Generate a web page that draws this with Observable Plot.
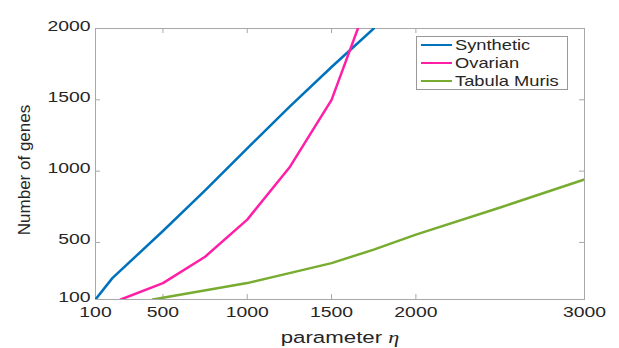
<!DOCTYPE html>
<html>
<head>
<meta charset="utf-8">
<script src="https://cdn.jsdelivr.net/npm/d3@7"></script>
<script src="https://cdn.jsdelivr.net/npm/@observablehq/plot@0.6"></script>
<style>
  html, body { margin: 0; padding: 0; background: white; }
  #wrap { position: relative; width: 619px; height: 348px; font-family: "Liberation Sans", Arial, sans-serif; }
  #legend { position: absolute; left: 416px; top: 36px; width: 152px; height: 54px; border: 1px solid #999; background: white; box-sizing: border-box; }
  .row { position: absolute; left: 0; height: 18px; }
  .sw { position: absolute; left: 4px; width: 31px; height: 0; border-top: 2.5px solid; }
  .lt { position: absolute; left: 38px; white-space: nowrap; font-size: 15px; color: #262626; transform: scaleX(1.22); transform-origin: left center; line-height: 18px; top: 0; }
</style>
</head>
<body>
<div id="wrap"><div id="chart"></div><div id="legend"></div></div>
<script>
// ---- data ----
const seriesNames = ["Synthetic", "Ovarian", "Tabula Muris"];
const seriesColors = ["#0072BD", "#FF1FA6", "#77AC30"];

const syntheticX = [100, 200, 500, 750, 1000, 1250, 1500, 1750];
const syntheticY = [100, 250, 580, 865, 1160, 1450, 1730, 2000];

const ovarianX = [250, 500, 750, 1000, 1250, 1500, 1750];
const ovarianY = [100, 215, 400, 660, 1025, 1500, 2300];

const tabulaX = [440, 1000, 1250, 1500, 1750, 2000, 2500, 3000];
const tabulaY = [100, 215, 285, 355, 450, 555, 745, 942];

const xTicks = [100, 500, 1000, 1500, 2000, 3000];
const yTicks = [100, 500, 1000, 1500, 2000];

const xLabel = "parameter η";
const yLabel = "Number of genes";

// ---- build table ----
const rows = [];
[[syntheticX, syntheticY], [ovarianX, ovarianY], [tabulaX, tabulaY]].forEach(([xs, ys], i) => {
  xs.forEach((x, j) => rows.push({series: seriesNames[i], x, y: ys[j]}));
});

const frameColor = "#a8a8a8";
const H = 348, mT = 28, mB = 49, W = 619, mL = 95, mR = 35;
const plotH = H - mT - mB, plotW = W - mL - mR;
const tickLen = 5;

const chart = Plot.plot({
  width: W, height: H,
  marginLeft: mL, marginRight: mR, marginTop: mT, marginBottom: mB,
  x: {domain: [100, 3000]},
  y: {domain: [100, 2000]},
  color: {domain: seriesNames, range: seriesColors},
  style: {fontFamily: "Liberation Sans, Arial, sans-serif", color: "#262626", background: "white", overflow: "visible"},
  marks: [
    Plot.frame({stroke: frameColor, strokeWidth: 1}),
    Plot.tickX(xTicks, {x: d => d, stroke: frameColor, insetTop: plotH - tickLen}),
    Plot.tickX(xTicks, {x: d => d, stroke: frameColor, insetBottom: plotH - tickLen}),
    Plot.tickY(yTicks, {y: d => d, stroke: frameColor, insetRight: plotW - tickLen}),
    Plot.tickY(yTicks, {y: d => d, stroke: frameColor, insetLeft: plotW - tickLen}),
    Plot.axisX(xTicks, {tickSize: 0, tickPadding: 17, label: null, tickFormat: "d", fontSize: 15.5, fill: "#262626"}),
    Plot.axisY(yTicks, {tickSize: 0, tickPadding: 5, dy: 2, label: null, tickFormat: "d", fontSize: 15.5, fill: "#262626"}),
    Plot.line(rows, {x: "x", y: "y", z: "series", stroke: "series", strokeWidth: 2.5, clip: true, curve: "linear"}),
    Plot.text([xLabel], {text: d => d, frameAnchor: "bottom", textAnchor: "middle", dy: 43, fontSize: 16.5, fill: "#262626"}),
    Plot.text([yLabel], {text: d => d, frameAnchor: "left", textAnchor: "middle", rotate: -90, dx: -70.5, dy: 6, fontSize: 17, fill: "#262626"})
  ]
});
document.getElementById("chart").appendChild(chart);

// horizontal stretch of text (the reference glyphs are wider than the font)
function stretch(el, s) {
  const xa = el.getAttribute("x"), ya = el.getAttribute("y");
  let t = el.getAttribute("transform") || "";
  if (xa !== null || ya !== null) {
    t += ` translate(${+xa || 0},${+ya || 0})`;
    el.removeAttribute("x"); el.removeAttribute("y");
  }
  el.setAttribute("transform", `${t} scale(${s},1)`);
}
chart.querySelectorAll('g[aria-label="x-axis tick label"] text, g[aria-label="y-axis tick label"] text')
  .forEach(el => stretch(el, 1.25));

chart.querySelectorAll("text").forEach(el => {
  if (el.textContent === xLabel) {
    el.textContent = "";
    const a = document.createElementNS("http://www.w3.org/2000/svg", "tspan");
    a.textContent = "parameter ";
    const b = document.createElementNS("http://www.w3.org/2000/svg", "tspan");
    b.textContent = "η";
    b.setAttribute("font-style", "italic");
    b.setAttribute("font-family", "Liberation Serif, serif");
    el.appendChild(a); el.appendChild(b);
    stretch(el, 1.35);
  }
});

// legend
const legend = document.getElementById("legend");
seriesNames.forEach((name, i) => {
  const row = document.createElement("div");
  row.className = "row";
  row.style.top = (-1 + i * 17.8) + "px";
  row.style.width = "150px";
  const sw = document.createElement("div");
  sw.className = "sw";
  sw.style.borderTopColor = seriesColors[i];
  sw.style.top = "8px";
  const lt = document.createElement("div");
  lt.className = "lt";
  lt.textContent = name;
  row.appendChild(sw); row.appendChild(lt);
  legend.appendChild(row);
});
</script>
</body>
</html>
